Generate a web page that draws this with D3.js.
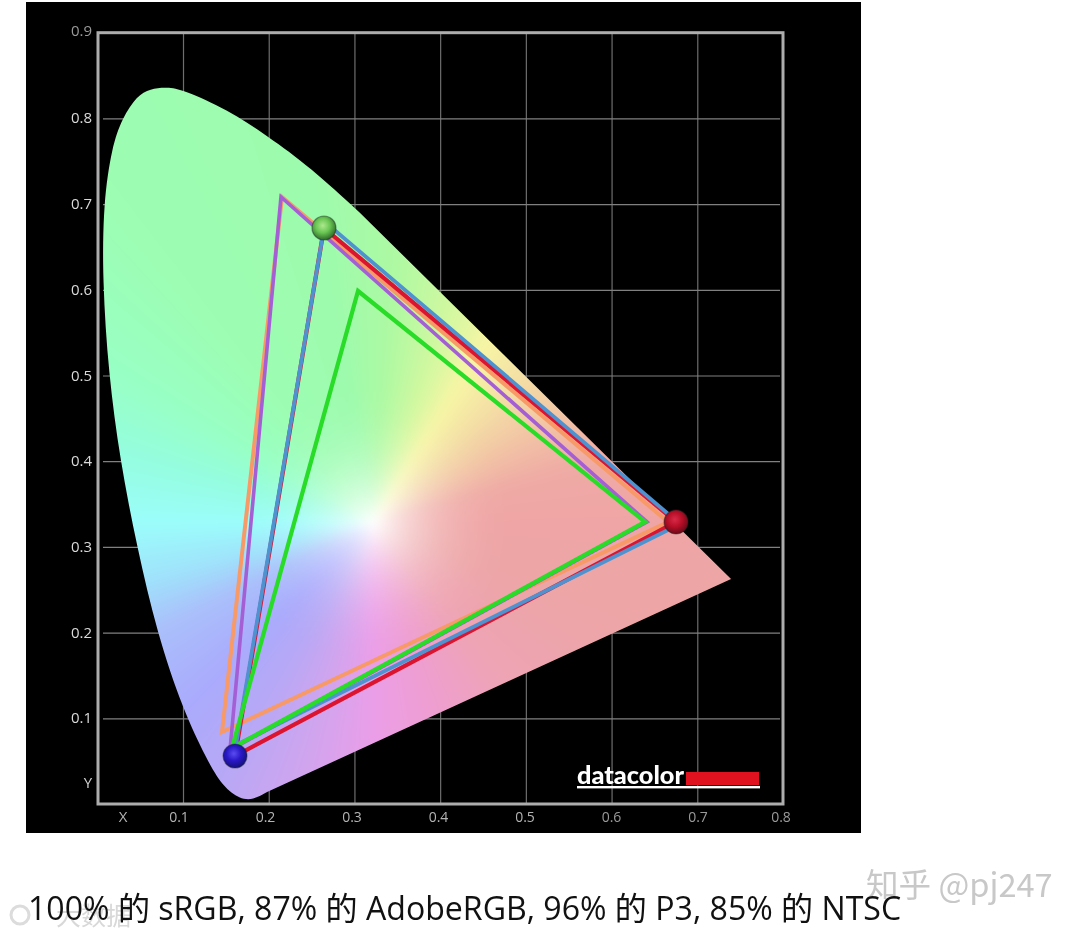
<!DOCTYPE html>
<html><head><meta charset="utf-8">
<script src="https://cdnjs.cloudflare.com/ajax/libs/d3/7.8.5/d3.min.js"></script>
<style>
html,body{margin:0;padding:0;background:#fff;width:1080px;height:935px;overflow:hidden}
#wrap{position:relative;width:1080px;height:935px;filter:blur(.4px)}
canvas,svg{position:absolute;left:0;top:0}
</style></head><body><div id="wrap"><svg id="grid" width="1080" height="935"></svg><canvas id="fill" width="1080" height="935"></canvas><svg id="chart" width="1080" height="935"></svg></div>
<script>
// Chromaticity diagram values
const xTicks=[0.1,0.2,0.3,0.4,0.5,0.6,0.7,0.8];
const yTicks=[0.1,0.2,0.3,0.4,0.5,0.6,0.7,0.8,0.9];
const locusCurve=[[.1981,.0140],[.1817,.0047],[.1665,.0058],[.1467,.0198],[.1280,.0513],[.1000,.1097],[.0697,.1995],[.0463,.2999],[.0265,.4014],[.0130,.5029],[.0060,.6114],[.0070,.7013],[.0170,.7667],[.0290,.8000],[.0463,.8265],[.0615,.8345],[.0813,.8365],[.1000,.8335],[.1513,.8105],[.1992,.7790],[.2482,.7433],[.3066,.6896]];
const locusCorner=[.7394,.2625];
const ntsc=[[.2155,.7083],[.6659,.3291],[.1455,.0840]];
const adobe=[[.2143,.7083],[.6414,.3291],[.1548,.0630]];
const measured=[[.2645,.6721],[.6752,.3291],[.1607,.0560]];
const p3=[[.2657,.6791],[.6799,.3267],[.1618,.0688]];
const srgb=[[.3042,.5986],[.6391,.3291],[.1572,.0653]];
const whitePoint=[.3210,.3285];
const hueAngles=[-180,-165,-154,-135,-120,-105,-90,-72,-50,-20,0,15,30,45,58,70,85,100,130,150,165,180];
const hueColors=["#9bfdfb","#a0e0fb","#aac0fb","#aaaafc","#b8a8f5","#d2a4ee","#eb9ee8","#ee9ed0","#eea4b4","#eda5a6","#efa5a5","#efaaa5","#f2c5a5","#f4e0a5","#f7f5a5","#d2f8a0","#aef9a2","#9dfbad","#9cfdb3","#98ffc5","#95fde0","#9bfdfb"];
const caption="100% 的 sRGB, 87% 的 AdobeRGB, 96% 的 P3, 85% 的 NTSC";

const x=d3.scaleLinear().domain([0,.8]).range([97.3,783]);
const y=d3.scaleLinear().domain([0,.9]).range([804,32.7]);
const labelX=d3.scaleLinear().domain([.1,.7,.8]).range([179,698,781]);

const hue=d3.scaleLinear().domain(hueAngles).range(hueColors).interpolate(d3.interpolateRgb);
const curve=d3.line().x(d=>x(d[0])).y(d=>y(d[1])).curve(d3.curveBasis);
const locusPath=curve(locusCurve)+`L${x(locusCorner[0])},${y(locusCorner[1])}Z`;

// black plate and grid underneath the gamut
const gridSvg=d3.select("#grid");
gridSvg.append("rect").attr("x",26).attr("y",2).attr("width",835).attr("height",831).attr("fill","#000");
const gx=gridSvg.append("g").attr("transform","translate(0,804)").call(d3.axisBottom(x).tickValues(xTicks.slice(0,-1)).tickSize(-771).tickFormat(""));
const gy=gridSvg.append("g").attr("transform","translate(98,0)").call(d3.axisRight(y).tickValues(yTicks.slice(0,-1)).tickSize(682).tickFormat(""));
gx.select(".domain").remove();gy.select(".domain").remove();
gx.selectAll("line").attr("stroke","#6e6e6e").attr("stroke-width",1.2);
gy.selectAll("line").attr("stroke","#808080").attr("stroke-width",1.2).attr("x1",5);

// gamut fill: colour by angle and distance around the white point
const cv=document.getElementById("fill"),ctx=cv.getContext("2d");
const img=ctx.createImageData(1080,935);
const cx=x(whitePoint[0]),cy=y(whitePoint[1]);
for(let j=60;j<830;j++)for(let i=90;i<760;i++){
  const dx=i-cx,dy=cy-j,r=Math.hypot(dx,dy);
  const a=Math.atan2(dy,dx)*180/Math.PI;
  const c=d3.rgb(hue(a));
  const u=Math.min(1,r/150);
  const t=1-Math.pow(1-u,2.5);
  const k=(i+j*1080)*4;
  img.data[k]=255+(c.r-255)*t;img.data[k+1]=255+(c.g-255)*t;img.data[k+2]=255+(c.b-255)*t;img.data[k+3]=255;
}
const off=document.createElement("canvas");off.width=1080;off.height=935;off.getContext("2d").putImageData(img,0,0);
ctx.save();ctx.clip(new Path2D(locusPath));ctx.filter="blur(5px)";ctx.drawImage(off,0,0);ctx.restore();

const svg=d3.select("#chart");
// frame
svg.append("rect").attr("x",x(0)+.7).attr("y",y(.9)).attr("width",x(.8)-x(0)-.7).attr("height",y(0)-y(.9))
  .attr("fill","none").attr("stroke","#adadad").attr("stroke-width",3);

// triangles
const tri=d3.line().x(d=>x(d[0])).y(d=>y(d[1])).curve(d3.curveLinearClosed);
const series=[[ntsc,"#f79a68",4],[adobe,"#a45fd4",3.6],[measured,"#dc1430",4.2],[p3,"#4f92d0",3.8],[srgb,"#28dc28",4.2]];
svg.append("g").selectAll("path").data(series).join("path")
  .attr("d",d=>tri(d[0])).attr("fill","none").attr("stroke",d=>d[1]).attr("stroke-width",d=>d[2]).attr("stroke-linejoin","miter");

// primaries markers
const ballColors=[["#aee88e","#69c653","#2f6a2a"],["#d82a48","#b80f28","#6a0a18"],["#5a4cf0","#2a18c8","#14107a"]];
const defs=svg.append("defs");
ballColors.forEach((c,i)=>{
  const g=defs.append("radialGradient").attr("id","ball"+i).attr("cx","45%").attr("cy","40%").attr("r","60%");
  g.selectAll("stop").data(c).join("stop").attr("offset",(d,k)=>k/2).attr("stop-color",d=>d);
});
svg.append("g").selectAll("circle").data(measured).join("circle")
  .attr("cx",d=>x(d[0])).attr("cy",d=>y(d[1])).attr("r",12)
  .attr("fill",(d,i)=>`url(#ball${i})`).attr("stroke","rgba(30,40,40,.45)").attr("stroke-width",1.2);

// tick labels
const font="'Open Sans','Noto Sans',sans-serif";
svg.append("g").selectAll("text").data(xTicks).join("text")
  .attr("x",d=>labelX(d)).attr("y",822).attr("text-anchor","middle").attr("font-family",font).attr("font-size",14)
  .attr("fill",d=>d>=.6?"#9a9a9a":"#b4b4b4").text(d=>d3.format(".1f")(d));
svg.append("g").selectAll("text").data(yTicks).join("text")
  .attr("x",92).attr("y",d=>y(d)+(d==.9?3:5)).attr("text-anchor","end").attr("font-family",font).attr("font-size",15)
  .attr("fill",d=>d==.9?"#9a9a9a":"#dadada").text(d=>d3.format(".1f")(d));
svg.append("text").attr("x",123).attr("y",822).attr("text-anchor","middle").attr("font-family",font).attr("font-size",15).attr("fill","#b4b4b4").text("X");
svg.append("text").attr("x",88).attr("y",788).attr("text-anchor","middle").attr("font-family",font).attr("font-size",15).attr("fill","#d0d0d0").text("Y");

// logo
svg.append("text").attr("x",577).attr("y",784).attr("font-family","Lato,Inter,sans-serif").attr("font-weight",900).attr("font-size",24).attr("textLength",107).attr("lengthAdjust","spacingAndGlyphs").attr("fill","#fff").text("datacolor");
svg.append("rect").attr("x",686).attr("y",772).attr("width",73).attr("height",13).attr("fill","#e0121f");
svg.append("rect").attr("x",577).attr("y",786).attr("width",183).attr("height",2.4).attr("fill","#fff");

// watermarks and caption
svg.append("text").attr("x",866).attr("y",897).attr("font-family","'Noto Sans CJK SC','Noto Sans',sans-serif").attr("font-size",32.6).attr("fill","#c8c8c8").text("知乎 @pj247");
svg.append("circle").attr("cx",20).attr("cy",915).attr("r",9).attr("fill","none").attr("stroke","#dcdcdc").attr("stroke-width",3);
svg.append("text").attr("x",56).attr("y",925).attr("font-family","'Noto Sans CJK SC',sans-serif").attr("font-size",25).attr("fill","#d8d8d8").text("大数据");
svg.append("text").attr("x",28).attr("y",919.5).attr("font-family","'Open Sans','Noto Sans CJK SC',sans-serif").attr("font-size",32.1).attr("fill","#111").text(caption);
</script></body></html>
